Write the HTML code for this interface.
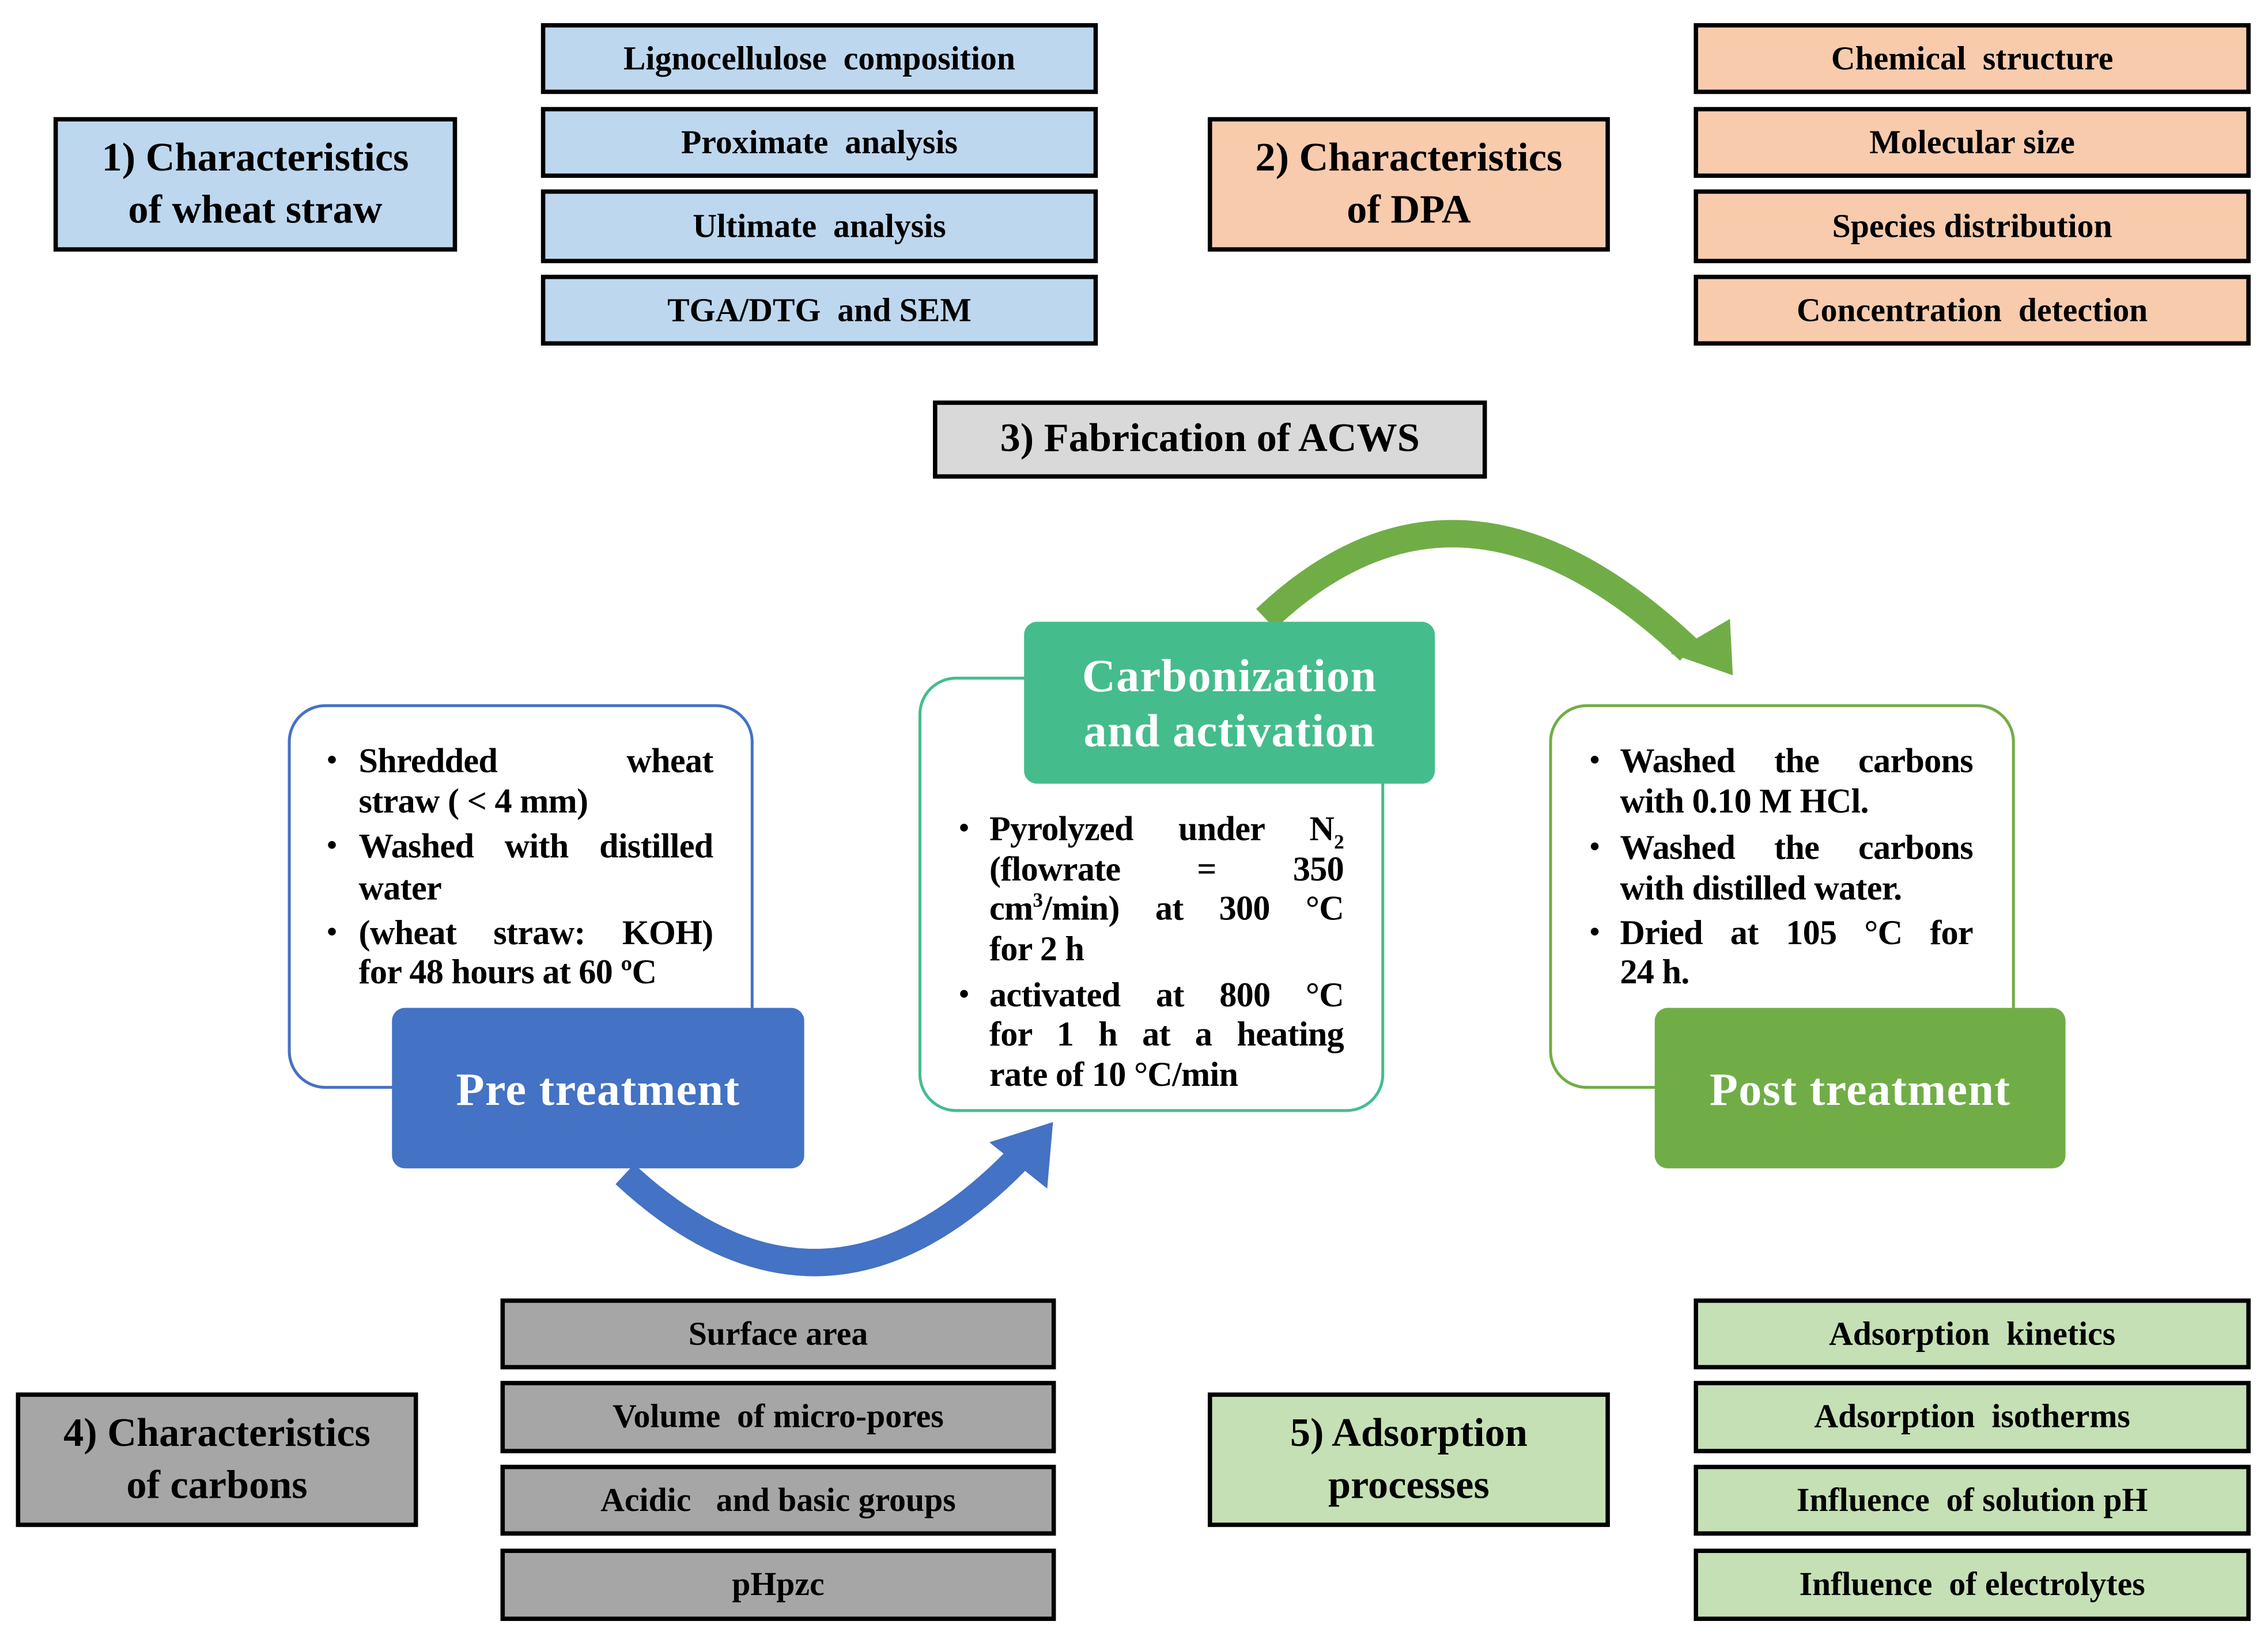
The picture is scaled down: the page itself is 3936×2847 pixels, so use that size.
<!DOCTYPE html>
<html><head><meta charset="utf-8"><style>
html,body{margin:0;padding:0;background:#fff;}
body{width:3936px;height:2846px;overflow:hidden;position:relative;}
#c{position:absolute;left:0;top:0;width:1568px;height:1134px;transform:scale(2.5102);transform-origin:0 0;font-family:"Liberation Serif","DejaVu Serif",serif;font-weight:bold;color:#000;}
.b{position:absolute;box-sizing:border-box;border:3px solid #000;display:flex;align-items:center;justify-content:center;text-align:center;}
.t{font-size:28px;line-height:36px;}
.l{font-size:23px;}
.bl{background:#BDD7EE}.or{background:#F8CBAD}.gy{background:#A6A6A6}.gr{background:#C5E0B4}
.rb{position:absolute;box-sizing:border-box;background:#fff;border-radius:26px;border:2px solid;}
.hb{position:absolute;box-sizing:border-box;border-radius:9px;color:#fff;display:flex;align-items:center;justify-content:center;text-align:center;font-size:32px;line-height:38px;letter-spacing:0.5px;}
.ln{position:absolute;font-size:24px;line-height:27px;white-space:nowrap;letter-spacing:-0.3px;}
.j{text-align:justify;text-align-last:justify;white-space:normal;}
.dot{position:absolute;font-size:20px;}
sub,sup{line-height:0;font-size:14px;}
</style></head><body><div id="c">
<svg style="position:absolute;left:0;top:0" width="1568" height="1134">
<path d="M432,812 Q570,940 705,800" fill="none" stroke="#4472C4" stroke-width="19"/>
<polygon points="728,776 684,790 724,822" fill="#4472C4"/>
<path d="M875,428 Q1010,300 1168,450" fill="none" stroke="#70AD47" stroke-width="19"/>
<polygon points="1198,467 1155,452 1196,428" fill="#70AD47"/>
</svg>

<div class="b bl t" style="left:37px;top:81px;width:279px;height:93px">1) Characteristics<br>of wheat straw</div>
<div class="b bl l" style="left:374px;top:16px;width:385px;height:49px">Lignocellulose&nbsp; composition</div>
<div class="b bl l" style="left:374px;top:74px;width:385px;height:49px">Proximate&nbsp; analysis</div>
<div class="b bl l" style="left:374px;top:131px;width:385px;height:51px">Ultimate&nbsp; analysis</div>
<div class="b bl l" style="left:374px;top:190px;width:385px;height:49px">TGA/DTG&nbsp; and SEM</div>

<div class="b or t" style="left:835px;top:81px;width:278px;height:93px">2) Characteristics<br>of DPA</div>
<div class="b or l" style="left:1171px;top:16px;width:385px;height:49px">Chemical&nbsp; structure</div>
<div class="b or l" style="left:1171px;top:74px;width:385px;height:49px">Molecular size</div>
<div class="b or l" style="left:1171px;top:131px;width:385px;height:51px">Species distribution</div>
<div class="b or l" style="left:1171px;top:190px;width:385px;height:49px">Concentration&nbsp; detection</div>

<div class="b t" style="left:645px;top:277px;width:383px;height:54px;background:#D9D9D9">3) Fabrication of ACWS</div>

<div class="rb" style="left:199px;top:487px;width:322px;height:266px;border-color:#4472C4"></div>
<div class="rb" style="left:635px;top:468px;width:322px;height:301px;border-color:#45BC8C"></div>
<div class="rb" style="left:1071px;top:487px;width:322px;height:266px;border-color:#70AD47"></div>

<div class="hb" style="left:271px;top:697px;width:285px;height:111px;background:#4472C4">Pre treatment</div>
<div class="hb" style="left:708px;top:430px;width:284px;height:112px;background:#45BC8C">Carbonization<br>and activation</div>
<div class="hb" style="left:1144px;top:697px;width:284px;height:111px;background:#70AD47">Post treatment</div>

<div class="dot" style="left:226px;top:515px">•</div>
<div class="ln j" style="left:248px;top:514px;width:245px">Shredded wheat</div>
<div class="ln" style="left:248px;top:542px">straw ( &lt; 4 mm)</div>
<div class="dot" style="left:226px;top:574px">•</div>
<div class="ln j" style="left:248px;top:573px;width:245px">Washed with distilled</div>
<div class="ln" style="left:248px;top:602px">water</div>
<div class="dot" style="left:226px;top:634px">•</div>
<div class="ln j" style="left:248px;top:633px;width:245px">(wheat straw: KOH)</div>
<div class="ln" style="left:248px;top:660px">for 48 hours at 60 ºC</div>

<div class="dot" style="left:663px;top:562px">•</div>
<div class="ln j" style="left:684px;top:561px;width:245px">Pyrolyzed under N<sub>2</sub></div>
<div class="ln j" style="left:684px;top:589px;width:245px">(flowrate = 350</div>
<div class="ln j" style="left:684px;top:616px;width:245px">cm<sup>3</sup>/min) at 300 °C</div>
<div class="ln" style="left:684px;top:644px">for 2 h</div>
<div class="dot" style="left:663px;top:677px">•</div>
<div class="ln j" style="left:684px;top:676px;width:245px">activated at 800 °C</div>
<div class="ln j" style="left:684px;top:703px;width:245px">for 1 h at a heating</div>
<div class="ln" style="left:684px;top:731px">rate of 10 °C/min</div>

<div class="dot" style="left:1099px;top:515px">•</div>
<div class="ln j" style="left:1120px;top:514px;width:244px">Washed the carbons</div>
<div class="ln" style="left:1120px;top:542px">with 0.10 M HCl.</div>
<div class="dot" style="left:1099px;top:575px">•</div>
<div class="ln j" style="left:1120px;top:574px;width:244px">Washed the carbons</div>
<div class="ln" style="left:1120px;top:602px">with distilled water.</div>
<div class="dot" style="left:1099px;top:634px">•</div>
<div class="ln j" style="left:1120px;top:633px;width:244px">Dried at 105 °C for</div>
<div class="ln" style="left:1120px;top:660px">24 h.</div>

<div class="b gy t" style="left:11px;top:963px;width:278px;height:93px">4) Characteristics<br>of carbons</div>
<div class="b gy l" style="left:346px;top:898px;width:384px;height:49px">Surface area</div>
<div class="b gy l" style="left:346px;top:955px;width:384px;height:50px">Volume&nbsp; of micro-pores</div>
<div class="b gy l" style="left:346px;top:1013px;width:384px;height:49px">Acidic&nbsp;&nbsp; and basic groups</div>
<div class="b gy l" style="left:346px;top:1071px;width:384px;height:50px">pHpzc</div>

<div class="b gr t" style="left:835px;top:963px;width:278px;height:93px">5) Adsorption<br>processes</div>
<div class="b gr l" style="left:1171px;top:898px;width:385px;height:49px">Adsorption&nbsp; kinetics</div>
<div class="b gr l" style="left:1171px;top:955px;width:385px;height:50px">Adsorption&nbsp; isotherms</div>
<div class="b gr l" style="left:1171px;top:1013px;width:385px;height:49px">Influence&nbsp; of solution pH</div>
<div class="b gr l" style="left:1171px;top:1071px;width:385px;height:50px">Influence&nbsp; of electrolytes</div>
</div></body></html>
